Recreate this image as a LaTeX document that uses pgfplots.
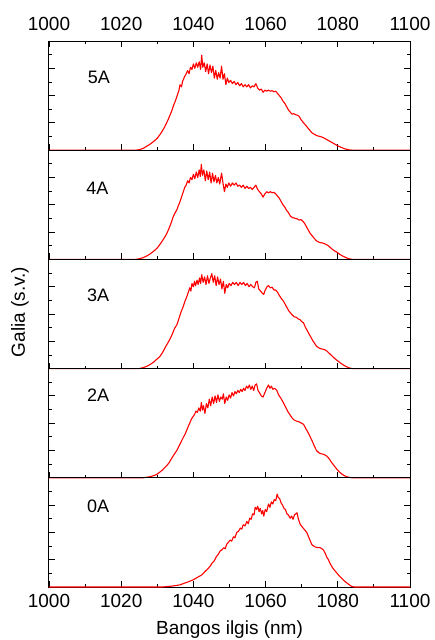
\documentclass[border=0pt]{standalone}
\usepackage{fontspec}
\setmainfont{Liberation Sans}
\usepackage{pgfplots}
\pgfplotsset{compat=1.18}
\definecolor{specred}{RGB}{255,0,0}
\tikzset{plab/.style={font=\fontsize{18}{21}\selectfont, anchor=center}}
\pgfplotsset{
  panel/.style={
    width=361pt, height=109.2pt, scale only axis,
    xmin=1000, xmax=1100, ymin=0, ymax=1,
    xtick={1000,1020,...,1100}, minor x tick num=1,
    ytick={0,0.25,0.5,0.75,1}, minor y tick num=1, yticklabels={},
    tick align=inside, ytick pos=both,
    major tick length=6pt, minor tick length=3pt,
    axis line style={black, line width=1pt},
    every tick/.style={black, line width=0.9pt},
    /pgf/number format/assume math mode=true,
    /pgf/number format/1000 sep={},
    tick label style={font=\fontsize{19}{22}\selectfont},
    label style={font=\fontsize{19}{22}\selectfont},
    clip=false, anchor=north west,
  },
  spec/.style={specred, line width=1.1pt, mark=none, line join=round},
}
\begin{document}
\begin{tikzpicture}
\path[use as bounding box] (0,0) rectangle (435pt,-640pt);
% 5A
\begin{axis}[panel, at={(49pt,-41pt)}, xtick pos=both, xticklabel pos=right,
  xticklabel style={yshift=6.4pt}]
\addplot[spec] coordinates {(1000,0)(1024,0)(1025,0.005)(1026,0.015)(1027,0.035)(1028,0.055)(1029,0.08)(1030,0.11)(1031,0.155)(1032,0.21)(1033,0.28)(1033.5,0.32)(1034,0.36)(1034.5,0.41)(1035,0.45)(1035.5,0.50)(1036,0.55)(1036.3,0.60)(1036.7,0.58)(1037,0.63)(1037.5,0.67)(1038,0.70)(1038.4,0.73)(1038.8,0.70)(1039.2,0.76)(1039.6,0.74)(1040,0.79)(1040.4,0.75)(1040.8,0.80)(1041.2,0.76)(1041.6,0.81)(1042,0.74)(1042.3,0.87)(1042.6,0.76)(1043,0.80)(1043.4,0.72)(1043.8,0.79)(1044.2,0.70)(1044.6,0.78)(1045,0.71)(1045.4,0.77)(1045.8,0.66)(1046.2,0.73)(1046.6,0.65)(1047,0.71)(1047.4,0.66)(1047.8,0.77)(1048.2,0.65)(1048.6,0.70)(1049,0.60)(1049.4,0.66)(1049.8,0.62)(1050.3,0.64)(1050.8,0.61)(1051.3,0.63)(1051.8,0.60)(1052.3,0.62)(1052.8,0.59)(1053.3,0.61)(1053.8,0.58)(1054.3,0.60)(1054.8,0.58)(1055.3,0.60)(1055.8,0.57)(1056.3,0.59)(1056.8,0.58)(1057.3,0.61)(1057.8,0.57)(1058.3,0.55)(1058.8,0.56)(1059.3,0.53)(1059.8,0.55)(1060.3,0.54)(1060.8,0.55)(1061.3,0.54)(1061.8,0.545)(1062.3,0.535)(1062.8,0.54)(1063.3,0.52)(1063.8,0.50)(1064.3,0.48)(1064.8,0.45)(1065.3,0.43)(1065.8,0.40)(1066.3,0.37)(1066.8,0.35)(1067.3,0.33)(1067.8,0.335)(1068.3,0.325)(1068.8,0.32)(1069.3,0.31)(1069.8,0.28)(1070.3,0.26)(1070.8,0.24)(1071.3,0.22)(1071.8,0.20)(1072.3,0.18)(1072.8,0.16)(1073.3,0.15)(1073.8,0.14)(1074.5,0.13)(1075.2,0.125)(1076,0.115)(1076.8,0.10)(1077.6,0.085)(1078.4,0.07)(1079.2,0.055)(1080,0.04)(1081,0.025)(1082,0.012)(1083,0.004)(1084,0)(1100,0)};
\node[plab] at (axis cs:1013.8,0.667) {5A};
\end{axis}
% 4A
\begin{axis}[panel, at={(49pt,-150.2pt)}, xtick pos=bottom, xticklabels={}]
\addplot[spec] coordinates {(1000,0)(1024,0)(1025,0.006)(1026,0.015)(1027,0.03)(1028,0.05)(1029,0.075)(1030,0.105)(1031,0.15)(1032,0.2)(1032.6,0.235)(1033.2,0.28)(1033.8,0.33)(1034.4,0.39)(1035,0.43)(1035.5,0.46)(1035.8,0.49)(1036.2,0.52)(1036.7,0.57)(1037.2,0.62)(1037.6,0.66)(1038,0.68)(1038.4,0.72)(1038.8,0.70)(1039.2,0.75)(1039.6,0.73)(1040,0.78)(1040.4,0.74)(1040.8,0.80)(1041.2,0.75)(1041.6,0.82)(1041.9,0.76)(1042.2,0.87)(1042.5,0.77)(1042.9,0.82)(1043.3,0.72)(1043.7,0.81)(1044.1,0.73)(1044.5,0.80)(1044.9,0.70)(1045.3,0.79)(1045.7,0.71)(1046.1,0.77)(1046.5,0.70)(1046.9,0.75)(1047.3,0.69)(1047.8,0.79)(1048.2,0.70)(1048.6,0.62)(1049,0.69)(1049.4,0.66)(1049.8,0.70)(1050.3,0.67)(1050.8,0.70)(1051.3,0.68)(1051.8,0.70)(1052.3,0.67)(1052.8,0.68)(1053.3,0.66)(1053.8,0.68)(1054.3,0.65)(1054.8,0.67)(1055.3,0.65)(1055.8,0.66)(1056.3,0.64)(1056.8,0.66)(1057.3,0.68)(1057.8,0.64)(1058.3,0.62)(1058.8,0.60)(1059.3,0.57)(1059.8,0.60)(1060.3,0.62)(1060.8,0.61)(1061.3,0.62)(1061.8,0.61)(1062.3,0.615)(1062.8,0.60)(1063.3,0.58)(1063.8,0.56)(1064.3,0.53)(1064.8,0.50)(1065.3,0.48)(1065.8,0.45)(1066.3,0.43)(1066.8,0.40)(1067.3,0.385)(1067.8,0.38)(1068.3,0.375)(1068.8,0.37)(1069.3,0.36)(1069.8,0.365)(1070.3,0.35)(1070.8,0.33)(1071.3,0.30)(1071.8,0.27)(1072.3,0.24)(1072.8,0.22)(1073.3,0.20)(1073.8,0.18)(1074.3,0.165)(1075,0.155)(1075.8,0.15)(1076.6,0.14)(1077.4,0.125)(1078.2,0.10)(1079,0.08)(1079.8,0.065)(1080.6,0.045)(1081.4,0.03)(1082.2,0.017)(1083,0.007)(1084,0)(1100,0)};
\node[plab] at (axis cs:1013.4,0.654) {4A};
\end{axis}
% 3A
\begin{axis}[panel, at={(49pt,-259.4pt)}, xtick pos=bottom, xticklabels={}]
\addplot[spec] coordinates {(1000,0)(1025,0)(1026,0.008)(1027,0.02)(1028,0.037)(1029,0.06)(1030,0.09)(1030.7,0.11)(1031.5,0.15)(1032.3,0.2)(1033,0.24)(1033.5,0.27)(1034.2,0.32)(1034.8,0.37)(1035.4,0.40)(1036,0.46)(1036.6,0.52)(1037.2,0.57)(1037.7,0.62)(1038.2,0.66)(1038.6,0.70)(1039,0.74)(1039.3,0.71)(1039.6,0.78)(1040,0.75)(1040.3,0.80)(1040.6,0.76)(1041,0.81)(1041.3,0.77)(1041.7,0.83)(1042,0.78)(1042.3,0.86)(1042.7,0.79)(1043.1,0.84)(1043.5,0.77)(1043.9,0.85)(1044.3,0.78)(1044.7,0.83)(1045.1,0.87)(1045.5,0.79)(1045.9,0.85)(1046.3,0.76)(1046.7,0.84)(1047.1,0.77)(1047.5,0.82)(1047.9,0.73)(1048.3,0.80)(1048.7,0.69)(1049.1,0.77)(1049.5,0.74)(1049.9,0.78)(1050.4,0.76)(1050.9,0.79)(1051.4,0.77)(1051.9,0.79)(1052.4,0.76)(1052.9,0.79)(1053.4,0.77)(1053.9,0.79)(1054.4,0.76)(1054.9,0.78)(1055.4,0.75)(1055.9,0.77)(1056.4,0.75)(1056.9,0.74)(1057.3,0.79)(1057.7,0.80)(1058.1,0.73)(1058.6,0.71)(1059.1,0.69)(1059.5,0.68)(1059.9,0.72)(1060.4,0.75)(1060.8,0.76)(1061.3,0.74)(1061.8,0.745)(1062.3,0.72)(1062.8,0.72)(1063.3,0.70)(1063.8,0.67)(1064.3,0.645)(1064.9,0.62)(1065.4,0.59)(1065.9,0.56)(1066.4,0.53)(1066.9,0.51)(1067.4,0.49)(1067.9,0.475)(1068.5,0.47)(1069,0.455)(1069.5,0.45)(1070,0.43)(1070.5,0.42)(1071,0.38)(1071.5,0.35)(1072,0.32)(1072.5,0.29)(1073,0.26)(1073.5,0.235)(1074.1,0.205)(1074.7,0.19)(1075.5,0.18)(1076.3,0.175)(1077,0.16)(1077.8,0.135)(1078.6,0.11)(1079.4,0.085)(1080.2,0.065)(1081,0.045)(1081.8,0.028)(1082.5,0.016)(1083.2,0.006)(1084,0)(1100,0)};
\node[plab] at (axis cs:1013.6,0.67) {3A};
\end{axis}
% 2A
\begin{axis}[panel, at={(49pt,-368.6pt)}, xtick pos=bottom, xticklabels={}]
\addplot[spec] coordinates {(1000,0)(1026,0)(1027,0.005)(1028,0.01)(1029,0.02)(1029.8,0.03)(1030.6,0.05)(1031.4,0.07)(1032.1,0.095)(1032.6,0.11)(1033.3,0.14)(1034,0.18)(1034.7,0.215)(1035.4,0.25)(1036,0.29)(1036.6,0.33)(1037.2,0.37)(1037.7,0.40)(1038.2,0.44)(1038.7,0.48)(1039.1,0.51)(1039.5,0.54)(1039.9,0.56)(1040.3,0.58)(1040.7,0.61)(1041.1,0.60)(1041.5,0.64)(1041.9,0.61)(1042.2,0.69)(1042.5,0.62)(1042.8,0.66)(1043.2,0.59)(1043.6,0.68)(1044,0.64)(1044.4,0.72)(1044.8,0.66)(1045.2,0.74)(1045.6,0.68)(1046,0.75)(1046.4,0.69)(1046.8,0.76)(1047.2,0.70)(1047.6,0.74)(1048,0.72)(1048.3,0.77)(1048.7,0.68)(1049.1,0.74)(1049.5,0.71)(1049.9,0.76)(1050.3,0.73)(1050.7,0.78)(1051.1,0.75)(1051.5,0.79)(1051.9,0.77)(1052.3,0.80)(1052.7,0.78)(1053.1,0.81)(1053.5,0.79)(1053.9,0.82)(1054.3,0.80)(1054.7,0.84)(1055.1,0.82)(1055.5,0.85)(1055.9,0.81)(1056.3,0.84)(1056.7,0.80)(1057.1,0.85)(1057.5,0.86)(1057.9,0.80)(1058.3,0.78)(1058.8,0.75)(1059.3,0.74)(1059.8,0.78)(1060.3,0.82)(1060.8,0.85)(1061.2,0.82)(1061.6,0.84)(1062,0.81)(1062.5,0.82)(1063.1,0.80)(1063.6,0.76)(1064.2,0.73)(1064.9,0.69)(1065.5,0.65)(1066.1,0.61)(1066.7,0.58)(1067.3,0.55)(1067.9,0.53)(1068.5,0.52)(1069.1,0.515)(1069.7,0.505)(1070.5,0.49)(1071,0.46)(1071.5,0.43)(1072,0.40)(1072.5,0.365)(1073,0.33)(1073.5,0.29)(1074.1,0.25)(1074.7,0.23)(1075.4,0.22)(1076.1,0.215)(1076.9,0.2)(1077.6,0.175)(1078.3,0.14)(1079,0.11)(1079.7,0.08)(1080.4,0.055)(1081.1,0.035)(1081.8,0.02)(1082.5,0.01)(1083.3,0.003)(1084,0)(1100,0)};
\node[plab] at (axis cs:1013.6,0.76) {2A};
\end{axis}
% 0A
\begin{axis}[panel, at={(49pt,-477.8pt)}, xtick pos=bottom, xticklabel pos=left,
  xticklabel style={yshift=-3.4pt},
  xlabel={Bangos ilgis (nm)},
  xlabel style={at={(axis description cs:0.5,0)}, anchor=center, yshift=-43pt}]
\addplot[spec] coordinates {(1000,0)(1031,0)(1032,0.002)(1033,0.005)(1034,0.008)(1035,0.013)(1036.3,0.02)(1037.5,0.035)(1038.8,0.05)(1040,0.067)(1041.2,0.09)(1042.3,0.11)(1043.3,0.145)(1044.1,0.17)(1044.6,0.19)(1045.2,0.22)(1045.8,0.24)(1046.4,0.28)(1046.9,0.30)(1047.4,0.33)(1047.9,0.34)(1048.4,0.36)(1048.8,0.35)(1049.2,0.39)(1049.7,0.41)(1050.2,0.43)(1050.6,0.42)(1051.1,0.46)(1051.5,0.45)(1052,0.50)(1052.5,0.51)(1053,0.54)(1053.4,0.53)(1053.8,0.57)(1054.3,0.56)(1054.8,0.60)(1055.2,0.58)(1055.6,0.63)(1056,0.62)(1056.4,0.67)(1056.8,0.66)(1057.1,0.73)(1057.5,0.71)(1057.8,0.74)(1058.2,0.69)(1058.5,0.72)(1058.9,0.67)(1059.2,0.70)(1059.5,0.65)(1059.9,0.71)(1060.3,0.69)(1060.8,0.76)(1061.2,0.73)(1061.6,0.78)(1062,0.76)(1062.4,0.80)(1062.8,0.79)(1063.2,0.85)(1063.5,0.82)(1063.9,0.81)(1064.3,0.77)(1064.7,0.75)(1065.1,0.72)(1065.5,0.71)(1065.9,0.67)(1066.3,0.66)(1066.8,0.63)(1067.2,0.65)(1067.6,0.62)(1068,0.66)(1068.4,0.67)(1068.7,0.68)(1069.1,0.62)(1069.5,0.58)(1069.9,0.56)(1070.4,0.54)(1070.9,0.52)(1071.4,0.50)(1071.9,0.46)(1072.4,0.42)(1072.8,0.39)(1073.3,0.375)(1073.9,0.365)(1074.5,0.36)(1075.1,0.36)(1075.6,0.35)(1076,0.34)(1076.5,0.31)(1077,0.27)(1077.4,0.25)(1077.8,0.22)(1078.3,0.19)(1078.8,0.165)(1079.3,0.145)(1079.7,0.13)(1080.3,0.105)(1080.9,0.085)(1081.5,0.065)(1082,0.05)(1082.6,0.035)(1083.2,0.02)(1083.8,0.006)(1084.5,0)(1100,0)};
\node[plab] at (axis cs:1013.6,0.74) {0A};
\end{axis}
\node[rotate=90, anchor=center, font=\fontsize{19}{22}\selectfont] at (20pt,-312pt) {Galia (s.v.)};
\end{tikzpicture}
\end{document}
